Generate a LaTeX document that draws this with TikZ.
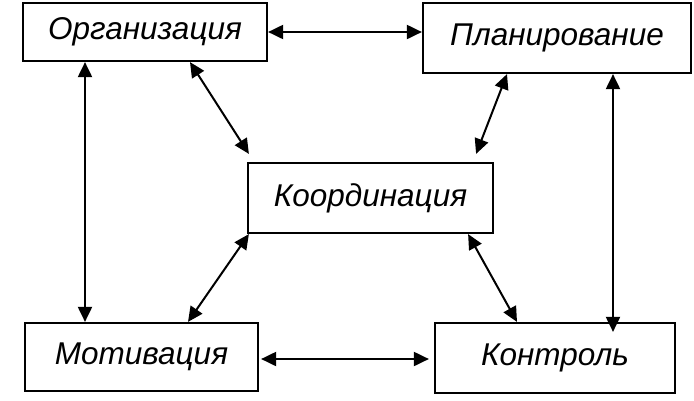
\documentclass[tikz,border=0pt]{standalone}
\usepackage{fontspec}
\setmainfont{Liberation Sans}
\usetikzlibrary{arrows.meta,calc}
\begin{document}
\begin{tikzpicture}[x=1pt,y=-1pt,
  box/.style={draw=black,line width=2.2pt,inner sep=0pt,font=\fontsize{31.5}{34}\selectfont\itshape},
  conn/.style={line width=2pt,{Triangle[length=15pt,width=14pt]}-{Triangle[length=15pt,width=14pt]}}]
\useasboundingbox[fill=white] (0,0) rectangle (694,400);
\node[box,minimum width=244pt,minimum height=58pt] (org) at (145,32) {Организация};
\node[box,minimum width=268pt,minimum height=70pt] (plan) at (557,38) {Планирование};
\node[box,minimum width=245pt,minimum height=70pt] (coord) at (370.5,198) {Координация};
\node[box,minimum width=233pt,minimum height=68pt] (mot) at (141.5,357) {Мотивация};
\node[box,minimum width=240pt,minimum height=70pt] (ctrl) at (555,358) {Контроль};
\coordinate (v1) at (85,0);
\coordinate (v2) at (613,0);
\draw[conn] (org.east) -- (plan.west |- org.east);
\draw[conn] (org.south -| v1) -- (mot.north -| v1);
\draw[conn] ($(org.south)+(45,0)$) -- ($(coord.north west)+(2,-8)$);
\draw[conn] ($(plan.south)+(-50,0)$) -- ($(coord.north east)+(-18,-8)$);
\draw[conn] (plan.south -| v2) -- ($(ctrl.north -| v2)+(0,10)$);
\draw[conn] ($(coord.south west)+(2,0)$) -- ($(mot.north)+(46.5,0)$);
\draw[conn] ($(coord.south east)+(-26,0)$) -- ($(ctrl.north)+(-38,0)$);
\draw[conn] ($(mot.east)+(2,2)$) -- ($(ctrl.west |- mot.east)+(-5,2)$);
\end{tikzpicture}
\end{document}
